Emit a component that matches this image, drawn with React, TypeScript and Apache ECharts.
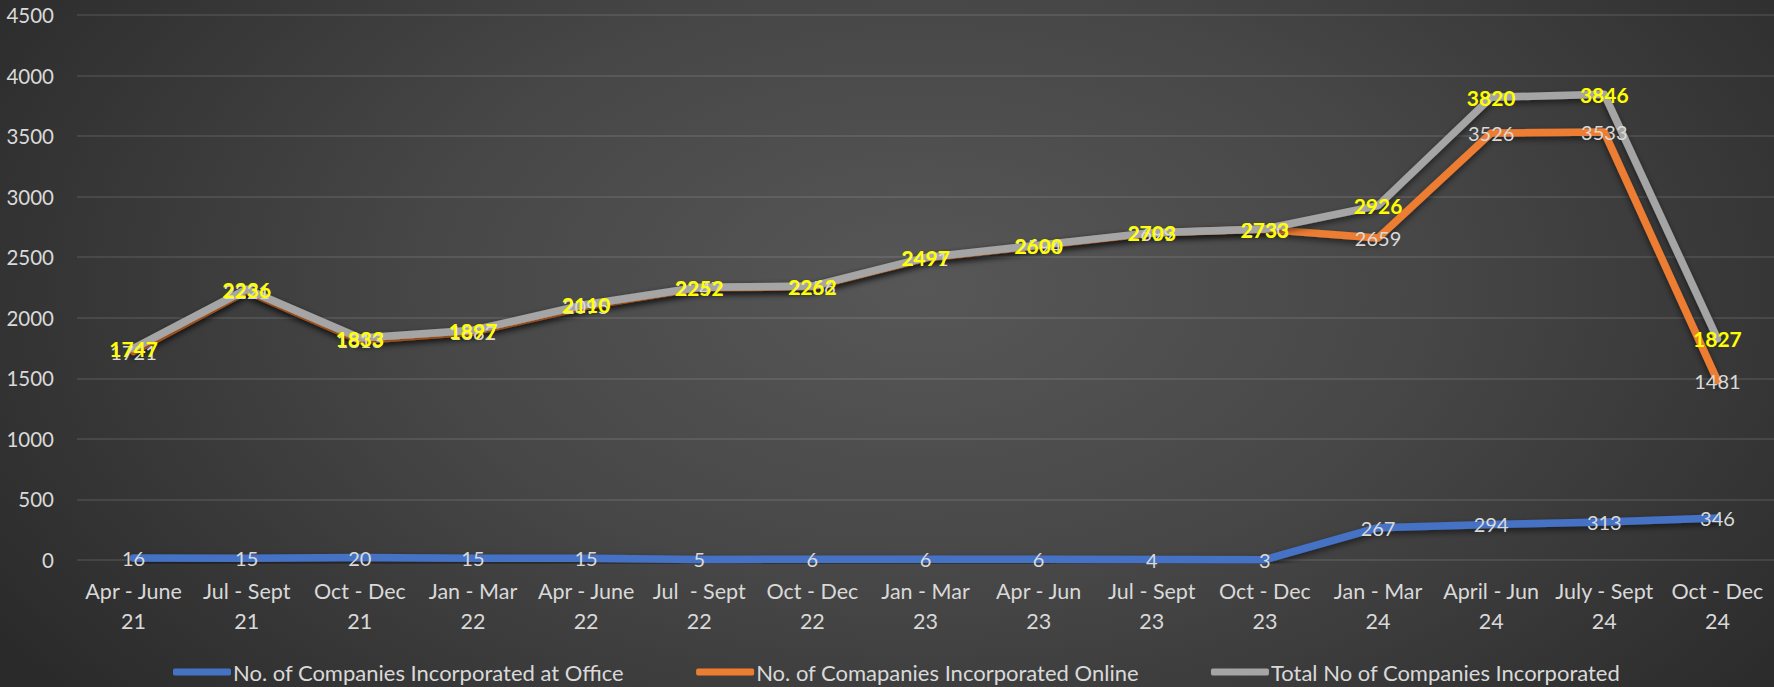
import React, { useEffect, useRef } from "react";
import * as echarts from "echarts";

const categories = [
  "Apr - June\n21", "Jul - Sept\n21", "Oct - Dec\n21", "Jan - Mar\n22", "Apr - June\n22",
  "Jul  - Sept\n22", "Oct - Dec\n22", "Jan - Mar\n23", "Apr - Jun\n23", "Jul - Sept\n23",
  "Oct - Dec\n23", "Jan - Mar\n24", "April - Jun\n24", "July - Sept\n24", "Oct - Dec\n24",
];
const officeValues = [16, 15, 20, 15, 15, 5, 6, 6, 6, 4, 3, 267, 294, 313, 346];
const onlineValues = [1721, 2221, 1813, 1882, 2095, 2247, 2256, 2491, 2594, 2699, 2730, 2659, 3526, 3533, 1481];
const totalValues = [1747, 2236, 1833, 1897, 2110, 2252, 2262, 2497, 2600, 2703, 2733, 2926, 3820, 3846, 1827];
const seriesNames = [
  "No. of Companies Incorporated at Office",
  "No. of Comapanies Incorporated Online",
  "Total No of Companies Incorporated",
];

const FONT = "Lato, 'Open Sans', sans-serif";

export default function App() {
  const ref = useRef<HTMLDivElement>(null);
  useEffect(() => {
    document.body.style.margin = "0";
    if (!ref.current) return;
    const chart = echarts.init(ref.current, undefined, { renderer: "svg" });
    const lineShadow = {
      shadowColor: "rgba(0,0,0,0.55)",
      shadowBlur: 6,
      shadowOffsetY: 3,
    };
    const mk = (name: string, data: number[], color: string, label: any) => ({
      name,
      type: "line",
      data,
      color,
      symbol: "circle",
      symbolSize: 1,
      itemStyle: { color },
      lineStyle: { width: 7.5, color, cap: "round", join: "round", ...lineShadow },
      label: { show: true, position: "inside", fontFamily: FONT, fontSize: 20, ...label },
      emphasis: { disabled: true },
    });
    chart.setOption({
      animation: false,
      backgroundColor: "transparent",
      grid: { left: 77, right: -7, top: 15, bottom: 127, containLabel: false },
      xAxis: {
        type: "category",
        data: categories,
        boundaryGap: true,
        axisLine: { show: false },
        axisTick: { show: false },
        axisLabel: {
          color: "#D9D9D9",
          fontFamily: FONT,
          fontSize: 21.5,
          lineHeight: 30,
          margin: 16,
          interval: 0,
        },
      },
      yAxis: {
        type: "value",
        min: 0,
        max: 4500,
        interval: 500,
        axisLine: { show: false },
        axisTick: { show: false },
        axisLabel: {
          color: "#D9D9D9",
          fontFamily: FONT,
          fontSize: 20.5,
          margin: 23,
          formatter: (v: number) => String(v),
        },
        splitLine: { lineStyle: { color: "rgba(255,255,255,0.13)", width: 1.5 } },
      },
      legend: {
        data: seriesNames,
        left: 173,
        top: 661,
        padding: 0,
        icon: "roundRect",
        itemWidth: 58,
        itemHeight: 7,
        itemGap: 72,
        textStyle: {
          color: "#D9D9D9",
          fontFamily: FONT,
          fontSize: 22,
          padding: [0, 0, 0, -3],
        },
      },
      series: [
        mk(seriesNames[0], officeValues, "#4472C4", { color: "#D9D9D9" }),
        mk(seriesNames[1], onlineValues, "#ED7D31", { color: "#D9D9D9" }),
        mk(seriesNames[2], totalValues, "#A5A5A5", { color: "#FFFF00", fontWeight: "bold", fontSize: 21 }),
      ],
    });
    return () => chart.dispose();
  }, []);
  return (
    <div
      ref={ref}
      style={{
        width: 1774,
        height: 687,
        background:
          "radial-gradient(ellipse 62% 95% at 52% 42%, #575757 0%, #474747 45%, #2a2a2a 100%)",
      }}
    />
  );
}
